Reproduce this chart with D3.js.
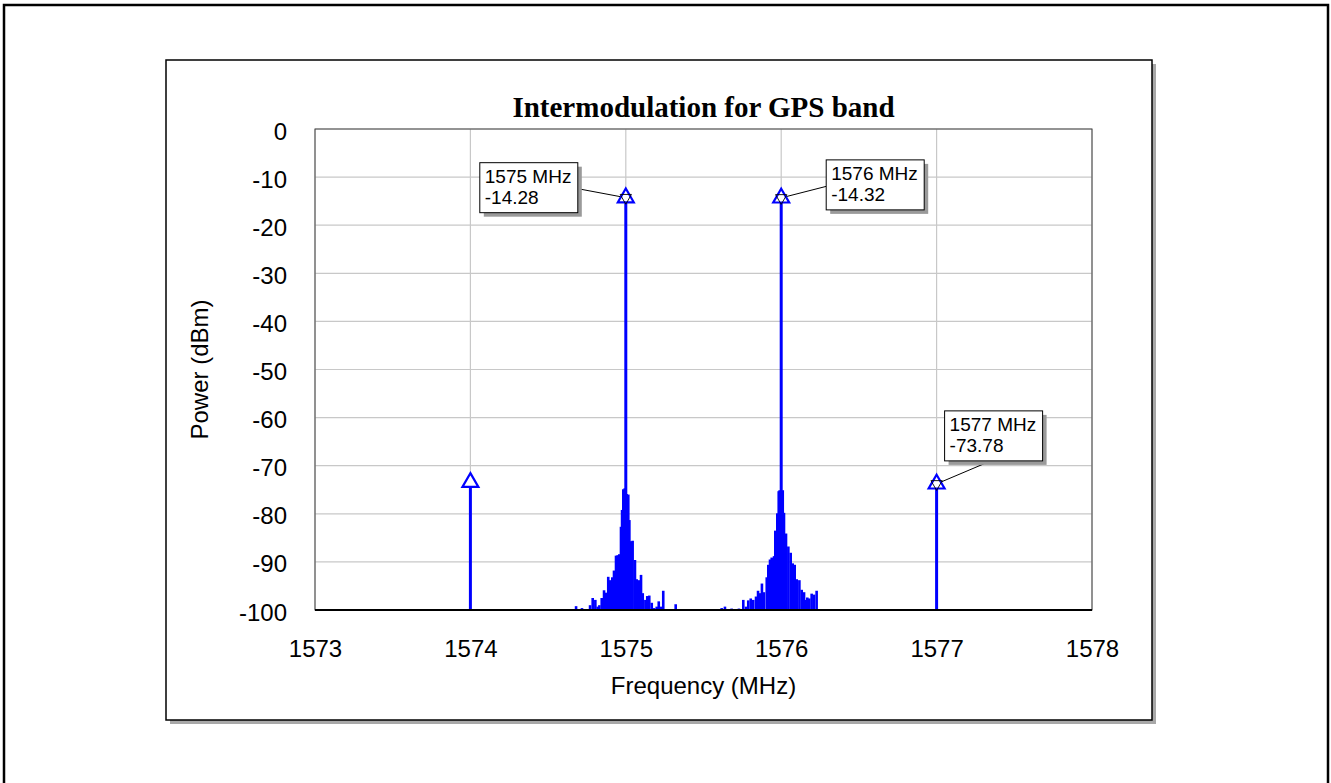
<!DOCTYPE html>
<html>
<head>
<meta charset="utf-8">
<script src="https://cdn.jsdelivr.net/npm/d3@7"></script>
<style>
  body { margin: 0; background: #fff; }
  svg { display: block; font-family: "Liberation Sans", Arial, sans-serif; }
</style>
</head>
<body>
<script>
// x / y tick labels
const xTicks = [1573, 1574, 1575, 1576, 1577, 1578];
const yTicks = [0, -10, -20, -30, -40, -50, -60, -70, -80, -90, -100];

// main tones and 3rd order products (MHz, dBm)
const toneFreqs = [1575, 1576];
const toneValues = [-14.28, -14.32];
const imFreqs = [1574, 1577];
const imValues = [-73.45, -73.78];

// phase noise skirt around the tones
const skirtFreqs = [
  1574.680, 1574.718, 1574.770, 1574.787, 1574.804, 1574.819, 1574.830, 1574.845,
  1574.860, 1574.873, 1574.887, 1574.900, 1574.913, 1574.924, 1574.937, 1574.948,
  1574.958, 1574.969, 1574.976, 1574.984, 1574.993,
  1575.006, 1575.016, 1575.023, 1575.032, 1575.044, 1575.059, 1575.070, 1575.085,
  1575.098, 1575.109, 1575.126, 1575.138, 1575.151, 1575.167, 1575.182, 1575.199,
  1575.212, 1575.225, 1575.241, 1575.321,
  1575.617, 1575.638, 1575.681, 1575.728, 1575.756, 1575.774, 1575.788, 1575.804,
  1575.820, 1575.838, 1575.851, 1575.864, 1575.876, 1575.889, 1575.907, 1575.917,
  1575.928, 1575.939, 1575.954, 1575.962, 1575.975, 1575.984, 1575.990,
  1576.010, 1576.018, 1576.031, 1576.046, 1576.061, 1576.074, 1576.087, 1576.100,
  1576.117, 1576.132, 1576.147, 1576.155, 1576.168, 1576.181, 1576.196, 1576.211,
  1576.228
];
const skirtValues = [
  -99.2, -99.6, -99.0, -97.5, -97.9, -99.3, -99.0, -97.5,
  -95.9, -96.4, -93.1, -93.8, -93.2, -91.8, -88.7, -88.6,
  -88.4, -82.7, -79.2, -74.9, -74.7,
  -75.9, -76.0, -81.3, -85.7, -85.6, -89.6, -93.6, -93.8,
  -92.7, -96.5, -97.9, -97.1, -97.0, -98.5, -99.6, -99.3,
  -98.2, -99.3, -96.0, -98.8,
  -99.6, -99.3, -99.7, -99.7, -97.9, -99.3, -98.0, -97.6,
  -97.9, -97.2, -96.0, -96.5, -94.5, -96.3, -93.2, -90.6,
  -89.5, -89.1, -88.8, -83.5, -79.9, -75.3, -75.1,
  -75.1, -79.8, -84.1, -86.8, -88.1, -90.3, -90.6, -93.6,
  -93.8, -95.8, -96.3, -97.9, -97.4, -97.6, -96.6, -96.8,
  -96.0
];

// markers
const markerFreqs = [1574, 1575, 1576, 1577];
const markerValues = [-73.45, -14.28, -14.32, -73.78];
const labelFreqs = [1575, 1576, 1577];
const labelValues = [-14.28, -14.32, -73.78];

const W = 1331, H = 783;
const plot = { left: 315, top: 129, right: 1092, bottom: 610 };
const blue = '#0000ff';

const svg = d3.select('body').append('svg').attr('width', W).attr('height', H);

// outer border
svg.append('rect')
  .attr('x', 4).attr('y', 5).attr('width', 1324).attr('height', 900)
  .attr('fill', 'none').attr('stroke', '#000').attr('stroke-width', 2.5);

// panel with shadow
svg.append('rect')
  .attr('x', 170).attr('y', 64).attr('width', 986).attr('height', 660)
  .attr('fill', '#a8a8a8');
svg.append('rect')
  .attr('x', 166).attr('y', 60).attr('width', 986).attr('height', 660)
  .attr('fill', '#fff').attr('stroke', '#000').attr('stroke-width', 1.5);

const x = d3.scaleLinear().domain([1573, 1578]).range([plot.left, plot.right]);
const y = d3.scaleLinear().domain([-100, 0]).range([plot.bottom, plot.top]);

// grid
svg.append('g')
  .selectAll('line')
  .data(yTicks)
  .enter()
  .append('line')
  .attr('x1', plot.left).attr('x2', plot.right)
  .attr('y1', d => y(d)).attr('y2', d => y(d))
  .attr('stroke', '#c8c8c8').attr('stroke-width', 1.2);
svg.append('g')
  .selectAll('line')
  .data(xTicks)
  .enter()
  .append('line')
  .attr('y1', plot.top).attr('y2', plot.bottom)
  .attr('x1', d => x(d)).attr('x2', d => x(d))
  .attr('stroke', '#c8c8c8').attr('stroke-width', 1.2);

// axes (plain hyphen for the minus sign)
const yAxis = svg.append('g')
  .attr('transform', `translate(${plot.left},0)`)
  .call(d3.axisLeft(y).tickValues(yTicks).tickSize(0).tickPadding(28).tickFormat(d => String(d)));
yAxis.select('.domain').remove();
yAxis.selectAll('text')
  .attr('dy', '0.42em')
  .style('font-size', '24px')
  .style('font-family', '"Liberation Sans", Arial, sans-serif')
  .attr('fill', '#000');

const xAxis = svg.append('g')
  .attr('transform', `translate(0,${plot.bottom})`)
  .call(d3.axisBottom(x).tickValues(xTicks).tickSize(0).tickPadding(30).tickFormat(d => String(d)));
xAxis.select('.domain').remove();
xAxis.selectAll('text')
  .style('font-size', '24px')
  .style('font-family', '"Liberation Sans", Arial, sans-serif')
  .attr('fill', '#000');

// plot frame
svg.append('rect')
  .attr('x', plot.left).attr('y', plot.top)
  .attr('width', plot.right - plot.left).attr('height', plot.bottom - plot.top)
  .attr('fill', 'none').attr('stroke', '#444').attr('stroke-width', 1);

svg.append('defs').append('clipPath').attr('id', 'clip')
  .append('rect')
  .attr('x', plot.left).attr('y', plot.top)
  .attr('width', plot.right - plot.left).attr('height', plot.bottom - plot.top);

const marks = svg.append('g').attr('clip-path', 'url(#clip)');

// skirt
marks.selectAll('line.skirt')
  .data(skirtFreqs.map((f, i) => [f, skirtValues[i]]))
  .enter()
  .append('line')
  .attr('class', 'skirt')
  .attr('x1', d => x(d[0])).attr('x2', d => x(d[0]))
  .attr('y1', y(-100)).attr('y2', d => y(d[1]))
  .attr('stroke', blue).attr('stroke-width', 2.6);

// tones and IM products
const stems = toneFreqs.map((f, i) => [f, toneValues[i]])
  .concat(imFreqs.map((f, i) => [f, imValues[i]]));
marks.selectAll('line.stem')
  .data(stems)
  .enter()
  .append('line')
  .attr('class', 'stem')
  .attr('x1', d => x(d[0])).attr('x2', d => x(d[0]))
  .attr('y1', y(-100)).attr('y2', d => y(d[1]))
  .attr('stroke', blue).attr('stroke-width', 3);

// bottom axis line
svg.append('line')
  .attr('x1', plot.left).attr('x2', plot.right)
  .attr('y1', plot.bottom).attr('y2', plot.bottom)
  .attr('stroke', '#000').attr('stroke-width', 2);

// label boxes (offsets from marker point in px, anchor of leader on box)
const boxOffsets = [[-146, -35, 1, 0.52], [45, -38, 0, 0.53], [8, -73, 0.4, 1.06]];
const boxW = 98, boxH = 50;

const labels = svg.append('g');
labelFreqs.forEach((f, i) => {
  const px = x(f), py = y(labelValues[i]);
  const [dx, dy, ax, ay] = boxOffsets[i];
  const bx = px + dx, by = py + dy;
  labels.append('line')
    .attr('x1', px).attr('y1', py)
    .attr('x2', bx + ax * boxW).attr('y2', by + ay * boxH)
    .attr('stroke', '#000').attr('stroke-width', 1);
  labels.append('rect')
    .attr('x', bx + 4).attr('y', by + 4).attr('width', boxW).attr('height', boxH)
    .attr('fill', '#9a9a9a');
  labels.append('rect')
    .attr('x', bx).attr('y', by).attr('width', boxW).attr('height', boxH)
    .attr('fill', '#fff').attr('stroke', '#000').attr('stroke-width', 1);
  labels.append('text')
    .attr('x', bx + 5).attr('y', by + 20.5)
    .style('font-size', '19px')
    .text(`${f} MHz`);
  labels.append('text')
    .attr('x', bx + 5).attr('y', by + 41.5)
    .style('font-size', '19px')
    .text(labelValues[i].toFixed(2));
});

// markers
const tri = d3.symbol().type(d3.symbolTriangle).size(110);
const markerG = svg.append('g');
markerFreqs.forEach((f, i) => {
  const g = markerG.append('g').attr('transform', `translate(${x(f)},${y(markerValues[i])})`);
  g.append('path').attr('d', tri())
    .attr('fill', '#fff').attr('stroke', blue).attr('stroke-width', 2.2);
  if (labelFreqs.includes(f)) {
    g.append('path').attr('d', d3.symbol().type(d3.symbolTriangle).size(55)())
      .attr('transform', 'rotate(180)')
      .attr('fill', 'none').attr('stroke', '#000').attr('stroke-width', 0.9);
  }
});

// title and axis titles
svg.append('text')
  .attr('x', (plot.left + plot.right) / 2).attr('y', 116.5)
  .attr('text-anchor', 'middle')
  .style('font-family', '"Liberation Serif", "Times New Roman", serif')
  .style('font-weight', 'bold')
  .style('font-size', '29px')
  .text('Intermodulation for GPS band');

svg.append('text')
  .attr('x', (plot.left + plot.right) / 2).attr('y', 694)
  .attr('text-anchor', 'middle')
  .style('font-size', '24px')
  .text('Frequency (MHz)');

svg.append('text')
  .attr('transform', `translate(208,${(plot.top + plot.bottom) / 2}) rotate(-90)`)
  .attr('text-anchor', 'middle')
  .style('font-size', '24px')
  .text('Power (dBm)');
</script>
</body>
</html>
